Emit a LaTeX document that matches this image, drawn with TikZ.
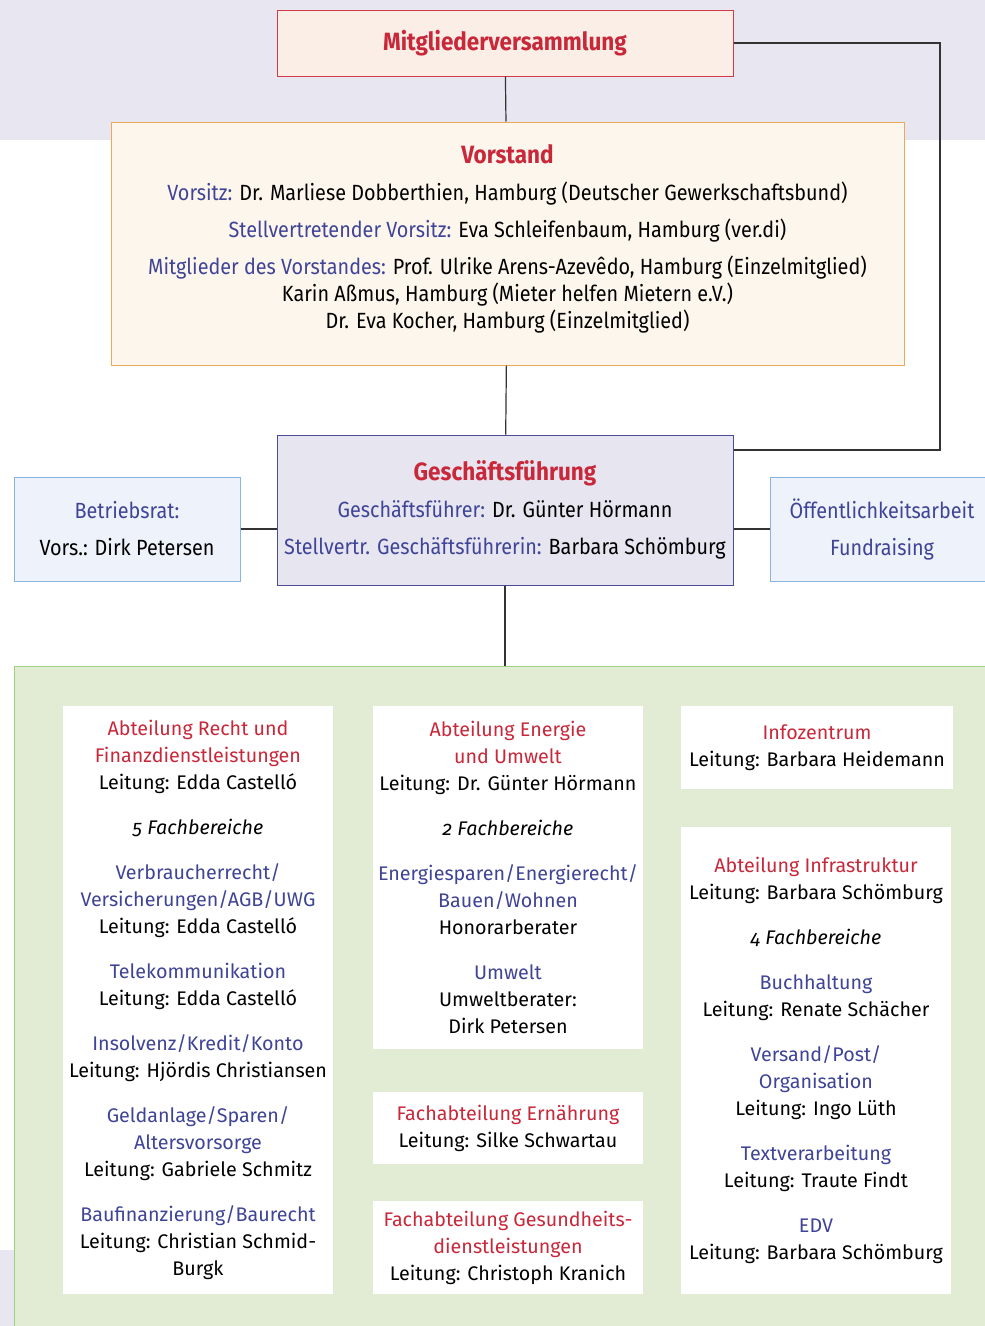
\documentclass[tikz,border=0pt]{standalone}
\usepackage{fontspec}
\setmainfont[Numbers=OldStyle]{Fira Sans}
\newfontfamily\condfont[FakeStretch=0.9]{Fira Sans}

\definecolor{bandcol}{HTML}{E8E7F1}
\definecolor{mvfill}{HTML}{FBEEE6}
\definecolor{mvdraw}{HTML}{D23A48}
\definecolor{vsfill}{HTML}{FDF6EC}
\definecolor{vsdraw}{HTML}{E9A95A}
\definecolor{gffill}{HTML}{E7E5F0}
\definecolor{gfdraw}{HTML}{4B4C96}
\definecolor{sidefill}{HTML}{EEF2FA}
\definecolor{sidedraw}{HTML}{8AB4E0}
\definecolor{abtfill}{HTML}{E2ECD5}
\definecolor{abtdraw}{HTML}{9ED07E}
\definecolor{vzred}{HTML}{C8283A}
\definecolor{vzblue}{HTML}{3F4496}
\definecolor{linegray}{HTML}{333333}

\newcommand{\lbl}[1]{\textcolor{vzblue}{#1}}
\newcommand{\rot}[1]{\textcolor{vzred}{#1}}
\newcommand{\titel}[1]{{\bfseries\fontsize{25}{27}\selectfont\textcolor{vzred}{#1}}}

\tikzstyle{line} = [draw=linegray, line width=1.2pt]
\tikzstyle{headbox} = [rectangle, line width=1pt, inner sep=0pt, align=center, font=\condfont\fontsize{22}{27}\selectfont]
\tikzstyle{abtbox} = [rectangle, fill=white, inner sep=0pt, align=center, minimum width=270pt, font=\fontsize{19.7}{27}\selectfont]

\begin{document}
\begin{tikzpicture}[x=1pt, y=-1pt]
\useasboundingbox (0,0) rectangle (985,1326);

% hintergrund
\fill [bandcol] (0,0) rectangle (985,140);
\fill [bandcol] (0,1250) rectangle (14,1326);

\node (mv) [headbox, draw=mvdraw, fill=mvfill, minimum width=456pt, minimum height=66pt] at (505,43) {\titel{Mitgliederversammlung}};

\node (vs) [headbox, draw=vsdraw, fill=vsfill, minimum width=793pt, minimum height=243pt] at (507.5,243.5) {};
\node (vstext) [headbox, anchor=north] at (507.5,144) {\titel{Vorstand}\\[10pt]
\lbl{Vorsitz:} Dr. Marliese Dobberthien, Hamburg (Deutscher Gewerkschaftsbund)\\[10pt]
\lbl{Stellvertretender Vorsitz:} Eva Schleifenbaum, Hamburg (ver.di)\\[10pt]
\lbl{Mitglieder des Vorstandes:} Prof. Ulrike Arens-Azevêdo, Hamburg (Einzelmitglied)\\
Karin Aßmus, Hamburg (Mieter helfen Mietern e.V.)\\
Dr. Eva Kocher, Hamburg (Einzelmitglied)};

\node (gf) [headbox, draw=gfdraw, fill=gffill, minimum width=456pt, minimum height=150pt] at (505,510) {\titel{Geschäftsführung}\\[10pt]
\lbl{Geschäftsführer:} Dr. Günter Hörmann\\[10pt]
\lbl{Stellvertr. Geschäftsführerin:} Barbara Schömburg};

\node (br) [headbox, draw=sidedraw, fill=sidefill, minimum width=226pt, minimum height=104pt] at (127,529) {\lbl{Betriebsrat:}\\[10pt]
Vors.: Dirk Petersen};

\node (oa) [headbox, draw=sidedraw, fill=sidefill, minimum width=224pt, minimum height=104pt] at (882,529) {\lbl{Öffentlichkeitsarbeit}\\[10pt]
\lbl{Fundraising}};

\node (abt) [rectangle, draw=abtdraw, fill=abtfill, line width=1pt, minimum width=986pt, minimum height=674pt] at (507,1003) {};

\coordinate (mvturn) at (940,450);

\draw [line] (mv) -- (vs);
\draw [line] (vs) -- (gf);
\draw [line] (mv.east) -| (mvturn) -- (gf.east |- mvturn);
\draw [line] (br.east) -- (br.east -| gf.west);
\draw [line] (oa.west) -- (oa.west -| gf.east);
\draw [line] (gf.south) -- (gf.south |- abt.north);

% abteilungen
\node (recht) [abtbox, minimum height=588pt] at (198,1000) {\rot{Abteilung Recht und}\\
\rot{Finanzdienstleistungen}\\
Leitung: Edda Castelló\\[18pt]
\textit{5 Fachbereiche}\\[18pt]
\lbl{Verbraucherrecht/}\\
\lbl{Versicherungen/AGB/UWG}\\
Leitung: Edda Castelló\\[18pt]
\lbl{Telekommunikation}\\
Leitung: Edda Castelló\\[18pt]
\lbl{Insolvenz/Kredit/Konto}\\
Leitung: Hjördis Christiansen\\[18pt]
\lbl{Geldanlage/Sparen/}\\
\lbl{Altersvorsorge}\\
Leitung: Gabriele Schmitz\\[18pt]
\lbl{Baufinanzierung/Baurecht}\\
Leitung: Christian Schmid-\\
Burgk};

\node (energie) [abtbox, minimum height=343pt] at (508,877.5) {\rot{Abteilung Energie}\\
\rot{und Umwelt}\\
Leitung: Dr. Günter Hörmann\\[18pt]
\textit{2 Fachbereiche}\\[18pt]
\lbl{Energiesparen/Energierecht/}\\
\lbl{Bauen/Wohnen}\\
Honorarberater\\[18pt]
\lbl{Umwelt}\\
Umweltberater:\\
Dirk Petersen};

\node (ernaehrung) [abtbox, minimum height=72pt] at (508,1128) {\rot{Fachabteilung Ernährung}\\
Leitung: Silke Schwartau};

\node (gesundheit) [abtbox, minimum height=93pt] at (508,1247.5) {\rot{Fachabteilung Gesundheits-}\\
\rot{dienstleistungen}\\
Leitung: Christoph Kranich};

\node (info) [abtbox, minimum width=272pt, minimum height=83pt] at (817,747.5) {\rot{Infozentrum}\\
Leitung: Barbara Heidemann};

\node (infra) [abtbox, minimum height=467pt] at (816,1060.5) {\rot{Abteilung Infrastruktur}\\
Leitung: Barbara Schömburg\\[18pt]
\textit{4 Fachbereiche}\\[18pt]
\lbl{Buchhaltung}\\
Leitung: Renate Schächer\\[18pt]
\lbl{Versand/Post/}\\
\lbl{Organisation}\\
Leitung: Ingo Lüth\\[18pt]
\lbl{Textverarbeitung}\\
Leitung: Traute Findt\\[18pt]
\lbl{EDV}\\
Leitung: Barbara Schömburg};

\end{tikzpicture}
\end{document}
